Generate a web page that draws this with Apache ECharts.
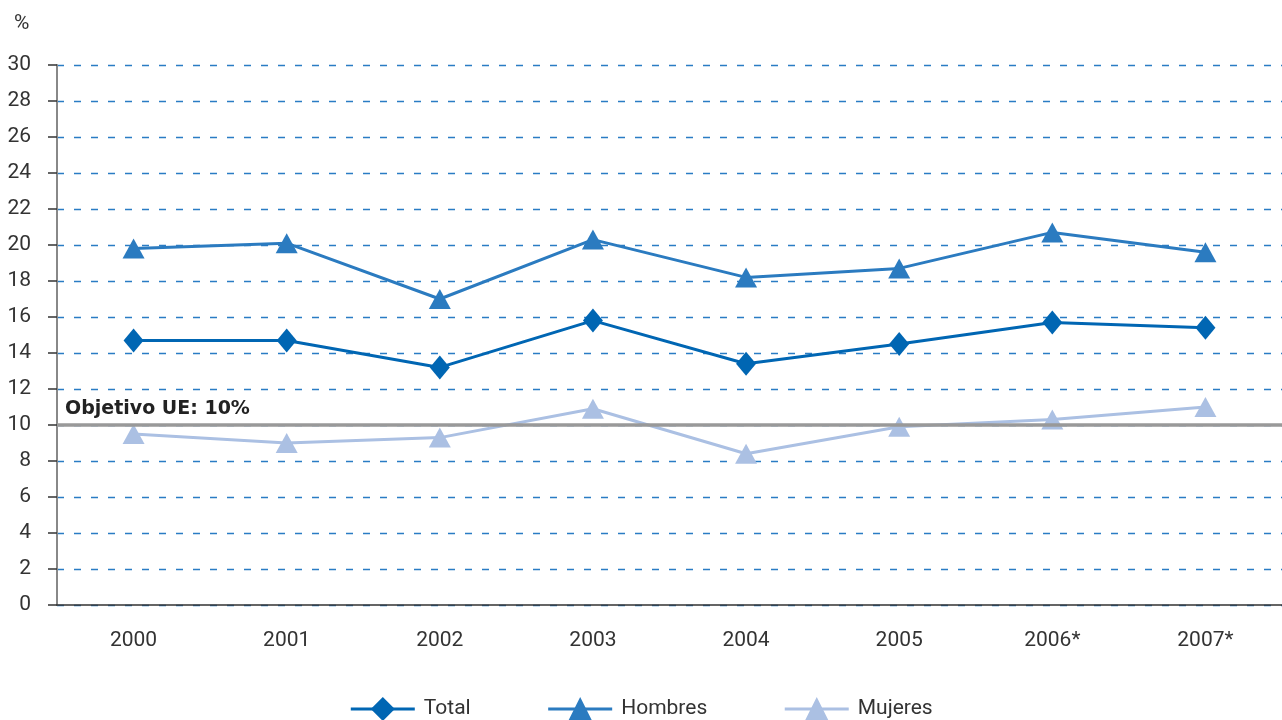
<!DOCTYPE html>
<html>
<head>
<meta charset="utf-8">
<script src="https://cdn.jsdelivr.net/npm/echarts@6/dist/echarts.min.js"></script>
<style>
  html, body { margin: 0; padding: 0; background: #fff; }
  #chart { width: 1282px; height: 720px; }
</style>
</head>
<body>
<div id="chart"></div>
<script>
const years = ['2000', '2001', '2002', '2003', '2004', '2005', '2006*', '2007*'];
const total = [14.7, 14.7, 13.2, 15.8, 13.4, 14.5, 15.7, 15.4];
const hombres = [19.8, 20.1, 17.0, 20.3, 18.2, 18.7, 20.7, 19.6];
const mujeres = [9.5, 9.0, 9.3, 10.9, 8.4, 9.9, 10.3, 11.0];
const objetivo = 10;

const font = "'Liberation Sans Narrow', 'Roboto', sans-serif";

const chartDom = document.getElementById('chart');
const myChart = echarts.init(chartDom);
const option = {
  animation: false,
  textStyle: { fontFamily: font },
  title: {
    text: '%',
    left: 9,
    top: 8,
    textStyle: { fontFamily: font, fontWeight: 'normal', fontSize: 21, color: '#333' }
  },
  grid: { left: 57, right: -10, top: 65, bottom: 115 },
  legend: {
    bottom: -6,
    left: 'center',
    itemWidth: 64,
    itemHeight: 30,
    itemGap: 76,
    lineStyle: { width: 3 },
    textStyle: { fontFamily: font, fontSize: 21, color: '#333', padding: [0, 0, 0, 4] },
    data: ['Total', 'Hombres', 'Mujeres']
  },
  xAxis: {
    type: 'category',
    data: years,
    axisLine: { lineStyle: { color: '#333', width: 1.5 } },
    axisTick: { show: false },
    axisLabel: { fontFamily: font, fontSize: 21, color: '#333', margin: 25 }
  },
  yAxis: {
    type: 'value',
    min: 0,
    max: 30,
    interval: 2,
    axisLine: { show: true, lineStyle: { color: '#888', width: 2 } },
    axisTick: { show: true, length: 9, lineStyle: { color: '#333', width: 1.5 } },
    axisLabel: { fontFamily: font, fontSize: 21, color: '#333', margin: 26 },
    splitLine: {
      show: true,
      lineStyle: { color: '#2a7cc4', width: 1.3, type: [7, 10] }
    }
  },
  series: [
    {
      name: 'Total',
      type: 'line',
      data: total,
      symbol: 'diamond',
      symbolSize: [20, 24],
      lineStyle: { color: '#0066b3', width: 3 },
      itemStyle: { color: '#0066b3' },
      z: 4
    },
    {
      name: 'Hombres',
      type: 'line',
      data: hombres,
      symbol: 'triangle',
      symbolSize: [22, 20],
      lineStyle: { color: '#2b7bc0', width: 3 },
      itemStyle: { color: '#2b7bc0' },
      z: 4
    },
    {
      name: 'Mujeres',
      type: 'line',
      data: mujeres,
      symbol: 'triangle',
      symbolSize: [22, 20],
      lineStyle: { color: '#abc0e3', width: 3 },
      itemStyle: { color: '#abc0e3' },
      z: 3,
      markLine: {
        silent: true,
        symbol: 'none',
        lineStyle: { color: '#999', width: 3.5, type: 'solid' },
        label: {
          show: true,
          position: 'insideStartTop',
          formatter: 'Objetivo UE: 10%',
          fontFamily: "'DejaVu Sans', sans-serif",
          fontWeight: 'bold',
          fontSize: 19,
          color: '#222',
          distance: [8, 6]
        },
        data: [{ yAxis: objetivo }]
      }
    }
  ]
};
option && myChart.setOption(option);
</script>
</body>
</html>
